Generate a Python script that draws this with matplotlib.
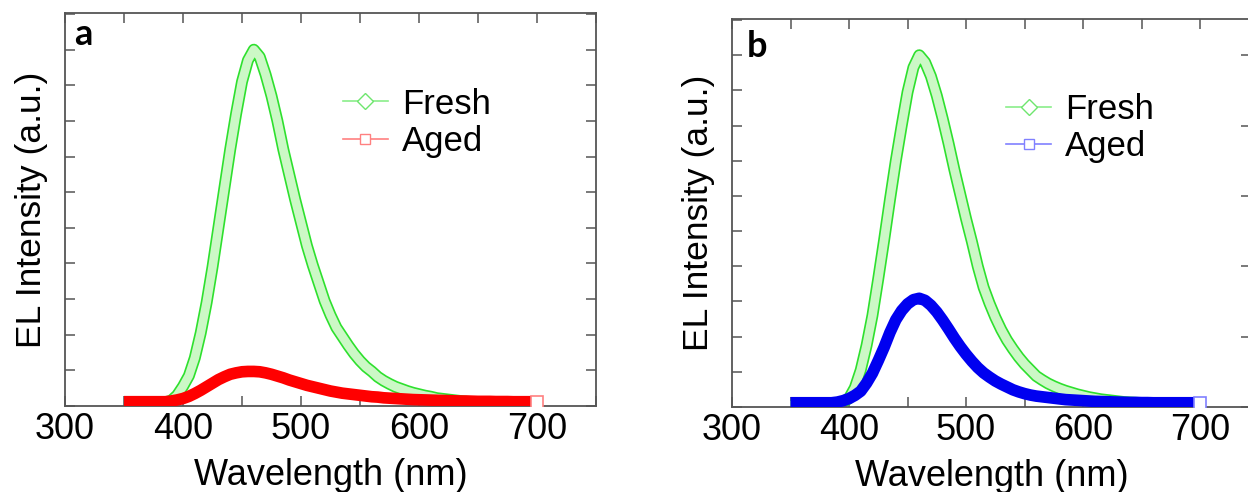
import numpy as np
import matplotlib
matplotlib.use('Agg')
import matplotlib.pyplot as plt
from matplotlib.lines import Line2D
from matplotlib.ticker import MultipleLocator

plt.rcParams['font.family'] = ['Liberation Sans', 'DejaVu Sans']

# EL spectra, sampled every 5 nm from 350 to 700 nm (a.u., fresh peak = 10)
wavelength = np.arange(350, 701, 5)

fresh_a = [0.05, 0.05, 0.05, 0.05, 0.05, 0.06, 0.08, 0.10, 0.15, 0.30,
           0.55, 0.85, 1.35, 2.05, 2.90, 3.90, 5.00, 6.10, 7.20, 8.20,
           9.10, 9.70, 10.0, 9.80, 9.30, 8.70, 8.00, 7.20, 6.50, 5.80,
           5.15, 4.50, 3.95, 3.45, 2.95, 2.55, 2.20, 1.95, 1.70, 1.47,
           1.27, 1.10, 0.97, 0.82, 0.71, 0.62, 0.54, 0.48, 0.42, 0.37,
           0.33, 0.29, 0.26, 0.22, 0.20, 0.18, 0.16, 0.14, 0.12, 0.11,
           0.10, 0.10, 0.09, 0.08, 0.08, 0.07, 0.07, 0.06, 0.06, 0.06,
           0.05]
aged_a = [0.12, 0.12, 0.12, 0.12, 0.12, 0.12, 0.12, 0.12, 0.14, 0.17,
          0.21, 0.27, 0.35, 0.44, 0.54, 0.64, 0.74, 0.82, 0.89, 0.93,
          0.96, 0.97, 0.97, 0.96, 0.93, 0.89, 0.84, 0.79, 0.73, 0.68,
          0.63, 0.58, 0.54, 0.50, 0.46, 0.42, 0.39, 0.36, 0.34, 0.32,
          0.30, 0.28, 0.26, 0.25, 0.23, 0.22, 0.21, 0.20, 0.19, 0.18,
          0.175, 0.17, 0.165, 0.16, 0.155, 0.15, 0.145, 0.14, 0.14, 0.135,
          0.13, 0.13, 0.13, 0.125, 0.125, 0.125, 0.12, 0.12, 0.12, 0.12,
          0.12]
fresh_b = [0.05, 0.05, 0.05, 0.05, 0.05, 0.05, 0.05, 0.07, 0.10, 0.14,
           0.25, 0.55, 1.05, 1.75, 2.60, 3.65, 4.75, 5.90, 7.00, 8.00,
           8.95, 9.65, 10.0, 9.80, 9.40, 8.85, 8.20, 7.50, 6.75, 6.05,
           5.35, 4.70, 4.00, 3.40, 2.95, 2.55, 2.20, 1.90, 1.65, 1.42,
           1.22, 1.05, 0.88, 0.77, 0.67, 0.59, 0.52, 0.46, 0.41, 0.36,
           0.32, 0.28, 0.25, 0.22, 0.20, 0.18, 0.16, 0.14, 0.13, 0.12,
           0.11, 0.10, 0.09, 0.08, 0.08, 0.07, 0.07, 0.06, 0.06, 0.06,
           0.05]
aged_b = [0.12, 0.12, 0.12, 0.12, 0.12, 0.12, 0.12, 0.12, 0.14, 0.18,
          0.24, 0.33, 0.45, 0.68, 0.96, 1.32, 1.70, 2.12, 2.48, 2.74,
          2.93, 3.05, 3.09, 3.03, 2.89, 2.70, 2.47, 2.22, 1.96, 1.72,
          1.50, 1.30, 1.12, 0.97, 0.85, 0.74, 0.65, 0.57, 0.49, 0.43,
          0.38, 0.34, 0.31, 0.29, 0.27, 0.25, 0.23, 0.21, 0.20, 0.19,
          0.18, 0.17, 0.16, 0.155, 0.15, 0.145, 0.14, 0.135, 0.13, 0.13,
          0.125, 0.125, 0.12, 0.12, 0.12, 0.12, 0.12, 0.12, 0.12, 0.12,
          0.12]

xticks = [300, 400, 500, 600, 700]

GREEN_EDGE = '#2ee02e'
GREEN_FILL = '#ccf8c6'
RED = '#ff0000'
BLUE = '#0000f0'
axis_grey = '#555555'

W, H = 1248, 492
fig = plt.figure(figsize=(W / 100, H / 100), dpi=100)
ax_a = fig.add_axes([65 / W, (H - 406) / H, 531 / W, 393 / H])
ax_b = fig.add_axes([732 / W, (H - 407) / H, 519 / W, 388 / H])


def draw_panel(ax, fresh, aged, aged_col, legend_col, tag, xmax, legend_xy, tag_xy):
    # fresh: hatched-looking band = bright edge line with a pale core
    ax.plot(wavelength, fresh, color=GREEN_EDGE, lw=8.6, solid_capstyle='butt',
            solid_joinstyle='round', zorder=2)
    ax.plot(wavelength, fresh, color=GREEN_FILL, lw=6.2, solid_capstyle='butt',
            solid_joinstyle='round', zorder=2)
    # aged: solid thick band, last point shown as open square
    ax.plot(wavelength[:-1], aged[:-1], color=aged_col, lw=8.4, solid_capstyle='butt',
            solid_joinstyle='round', zorder=3)
    ax.plot(wavelength[-1:], aged[-1:], 's', ms=8, mfc='white', mec=legend_col,
            mew=1.2, zorder=3)

    ax.set_xlim(300, xmax)
    ax.set_ylim(0, 11.03)
    ax.set_xticks(xticks)
    ax.xaxis.set_minor_locator(MultipleLocator(50))
    ax.yaxis.set_major_locator(MultipleLocator(1))
    ax.set_yticklabels([])
    ax.tick_params(which='both', direction='in', top=True, right=True,
                   length=7, width=1.1, color=axis_grey, labelsize=26, pad=4)
    for sp in ax.spines.values():
        sp.set_color(axis_grey)
        sp.set_linewidth(1.3)

    ax.set_xlabel('Wavelength (nm)', fontsize=26, labelpad=8)
    ax.set_ylabel('EL Intensity (a.u.)', fontsize=25.5, labelpad=8)

    handles = [
        Line2D([], [], color='#8aee8a', lw=1.2, marker='D', ms=8, mfc='white',
               mec='#6ee66e', mew=1.0),
        Line2D([], [], color=legend_col, lw=1.2, marker='s', ms=6.5, mfc='white',
               mec=legend_col, mew=1.0),
    ]
    ax.legend(handles, ['Fresh', 'Aged'], loc='center left', bbox_to_anchor=legend_xy,
              frameon=False, fontsize=25, handlelength=1.3, handletextpad=0.4,
              labelspacing=0.12, borderpad=0, borderaxespad=0)

    ax.text(tag_xy[0], tag_xy[1], tag, transform=ax.transAxes, fontsize=26,
            fontweight='bold', family=['Lato', 'DejaVu Sans'], va='baseline')


draw_panel(ax_a, fresh_a, aged_a, RED, '#ff8080', 'a', 750,
           (0.523, 0.721), (0.017, 0.919))
draw_panel(ax_b, fresh_b, aged_b, BLUE, '#8080ff', 'b', 743.5,
           (0.528, 0.718), (0.029, 0.902))
# right-hand ticks of panel b only on the even intensity steps
ax_b.yaxis.set_major_locator(MultipleLocator(2))
ax_b.yaxis.set_minor_locator(MultipleLocator(1))
ax_b.tick_params(which='minor', direction='in', right=False, left=True,
                 length=7, width=1.1, color=axis_grey)
ax_b.set_yticklabels([])

fig.savefig('out.png', dpi=100)
